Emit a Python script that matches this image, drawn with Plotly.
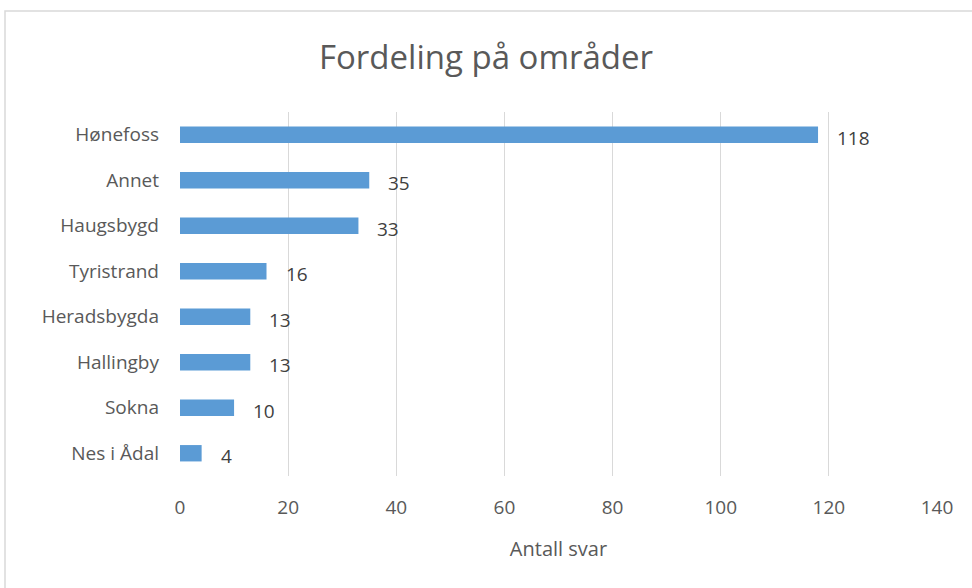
import plotly.graph_objects as go

categories = ["Hønefoss", "Annet", "Haugsbygd", "Tyristrand", "Heradsbygda", "Hallingby", "Sokna", "Nes i Ådal"]
values = [118, 35, 33, 16, 13, 13, 10, 4]
x_ticks = [0, 20, 40, 60, 80, 100, 120, 140]

FONT = "Open Sans, sans-serif"
TXT = "#595959"

fig = go.Figure(go.Bar(
    y=categories,
    x=values,
    orientation="h",
    marker=dict(color="#5B9BD5", line=dict(width=0)),
    width=0.36,
    hoverinfo="x+y",
))

for c, v in zip(categories, values):
    fig.add_annotation(x=v, y=c, text=str(v), showarrow=False, xanchor="left", yanchor="middle",
                       xshift=17, yshift=-3, font=dict(family=FONT, size=19, color="#404040"))

fig.update_layout(
    width=972, height=588,
    margin=dict(l=180, r=35, t=112, b=112),
    paper_bgcolor="white",
    plot_bgcolor="white",
    showlegend=False,
    title=dict(text="Fordeling på områder", x=0.5, xanchor="center", y=0.903, yanchor="middle",
               font=dict(family=FONT, size=33, color=TXT)),
    xaxis=dict(range=[0, 140], tickvals=x_ticks, showgrid=True, gridcolor="#D9D9D9", gridwidth=1,
               zeroline=False, showline=False, ticks="", ticklabelstandoff=18,
               tickfont=dict(family=FONT, size=19, color=TXT),
               title=dict(text="Antall svar", font=dict(family=FONT, size=20, color=TXT), standoff=22)),
    yaxis=dict(categoryorder="array", categoryarray=categories[::-1], showgrid=False, zeroline=False,
               showline=False, ticks="", ticklabelstandoff=20,
               tickfont=dict(family=FONT, size=19, color=TXT)),
    shapes=[dict(type="rect", xref="paper", yref="paper", x0=-175/757, x1=1.2, y0=-0.5, y1=(588-11-112)/364,
                 line=dict(color="#D9D9D9", width=1.5), fillcolor="rgba(0,0,0,0)", layer="below")],
)

fig.write_html("out.html", config={"displayModeBar": False},
               post_script="document.body.style.margin='0';document.body.style.overflow='hidden';")
